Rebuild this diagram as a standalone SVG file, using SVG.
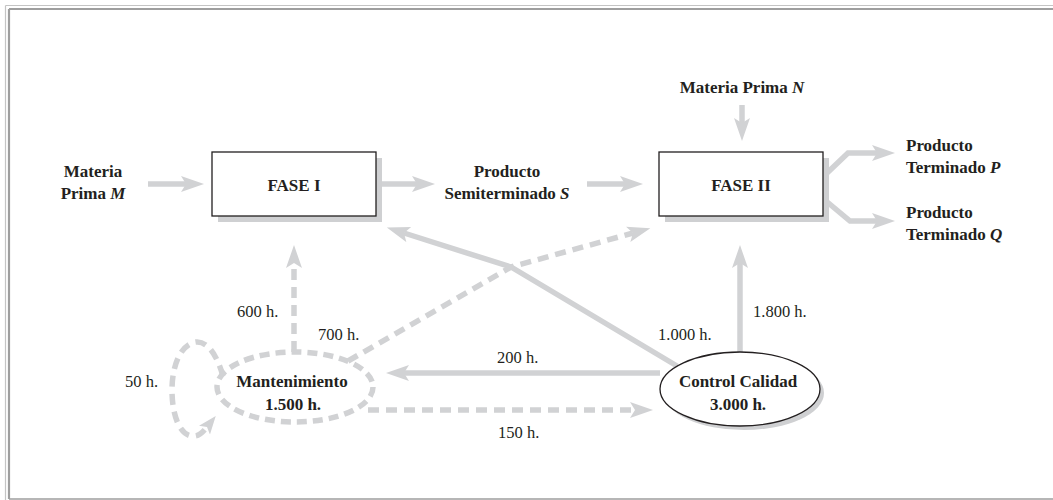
<svg xmlns="http://www.w3.org/2000/svg" width="1053" height="500" viewBox="0 0 1053 500">
<defs>
<style>
.t{font-family:"Liberation Serif","Times New Roman",serif;font-size:16.5px;fill:#231f20}
.b{font-weight:bold;font-size:17px}
.m{text-anchor:middle}
.c{fill:none;stroke:#d1d2d4;stroke-width:5.5}
.d{stroke-dasharray:11 7}
.box{fill:#fff;stroke:#231f20;stroke-width:1.3}
.sh{fill:#cfd0d2}
</style>
<marker id="ah" markerUnits="userSpaceOnUse" markerWidth="26" markerHeight="18" refX="5" refY="8" orient="auto" viewBox="0 0 26 18">
<path d="M0,0 L23,8 L0,16 L5,8 Z" fill="#d1d2d4"/>
</marker>
<marker id="ahs" markerUnits="userSpaceOnUse" markerWidth="20" markerHeight="16" refX="4" refY="7" orient="auto" viewBox="0 0 20 16">
<path d="M0,0 L18,7 L0,14 L4,7 Z" fill="#d1d2d4"/>
</marker>
</defs>
<g id="frame" fill="none">
<line x1="5.5" y1="5.5" x2="1053" y2="5.5" stroke="#c4c4c4" stroke-width="1.2"/>
<line x1="5.5" y1="5.5" x2="5.5" y2="500" stroke="#c4c4c4" stroke-width="1.2"/>
<line x1="9" y1="9" x2="1053" y2="9" stroke="#9e9e9e" stroke-width="2.2"/>
<line x1="9" y1="9" x2="9" y2="499" stroke="#9e9e9e" stroke-width="2.2"/>
<line x1="9" y1="499" x2="1053" y2="499" stroke="#9e9e9e" stroke-width="1.6"/>
</g>
<g id="connectors">
<line class="c" x1="148" y1="184" x2="186" y2="184" marker-end="url(#ah)"/>
<line class="c" x1="382" y1="184" x2="417" y2="184" marker-end="url(#ah)"/>
<line class="c" x1="587" y1="184" x2="625" y2="184" marker-end="url(#ah)"/>
<line class="c" x1="742" y1="105" x2="742" y2="123" marker-end="url(#ah)"/>
<polyline class="c" points="826,174 848,153 877,153" marker-end="url(#ah)"/>
<polyline class="c" points="826,201 850,221 877,221" marker-end="url(#ah)"/>
<polyline class="c" points="677,366 511,267 404,233" marker-end="url(#ah)"/>
<polyline class="c d" points="348,361 511,267 633,233" marker-end="url(#ah)"/>
<line class="c d" x1="294" y1="352" x2="294" y2="263" marker-end="url(#ah)"/>
<line class="c" x1="740" y1="352" x2="740" y2="263" marker-end="url(#ah)"/>
<line class="c" x1="660" y1="373" x2="404" y2="373" marker-end="url(#ah)"/>
<line class="c d" x1="368" y1="410" x2="635" y2="410" marker-end="url(#ah)"/>
<path class="c d" d="M223,376 C216,352 206,341 196,342 C181,344 172,365 172,390 C172,416 180,435 192,436 C199,437 203,432 207,427" marker-end="url(#ahs)"/>
</g>
<g id="fase1">
<rect class="sh" x="218" y="158" width="164" height="64"/>
<rect class="box" x="212" y="152" width="164" height="64"/>
<text class="t b m" x="294" y="191">FASE I</text>
</g>
<g id="fase2">
<rect class="sh" x="665" y="158" width="164" height="64"/>
<rect class="box" x="659" y="152" width="164" height="64"/>
<text class="t b m" x="741" y="191">FASE II</text>
</g>
<g id="mantenimiento">
<ellipse class="c" cx="295" cy="387" rx="78" ry="35" stroke-dasharray="10 6"/>
<text class="t b m" x="292" y="387">Mantenimiento</text>
<text class="t b m" x="293" y="410">1.500 h.</text>
</g>
<g id="control">
<ellipse cx="744" cy="393" rx="80" ry="37" fill="#cfd0d2"/>
<ellipse class="box" cx="740" cy="389" rx="80" ry="37"/>
<text class="t b m" x="738" y="387">Control Calidad</text>
<text class="t b m" x="738" y="410">3.000 h.</text>
</g>
<g id="materiaM">
<text class="t b m" x="93" y="177">Materia</text>
<text class="t b m" x="93" y="199">Prima <tspan font-style="italic">M</tspan></text>
</g>
<g id="productoS">
<text class="t b m" x="507" y="177">Producto</text>
<text class="t b m" x="507" y="199">Semiterminado <tspan font-style="italic">S</tspan></text>
</g>
<g id="materiaN">
<text class="t b m" x="742" y="93">Materia Prima <tspan font-style="italic">N</tspan></text>
</g>
<g id="productoP">
<text class="t b" x="906" y="151">Producto</text>
<text class="t b" x="906" y="173">Terminado <tspan font-style="italic">P</tspan></text>
</g>
<g id="productoQ">
<text class="t b" x="906" y="218">Producto</text>
<text class="t b" x="906" y="240">Terminado <tspan font-style="italic">Q</tspan></text>
</g>
<g id="labels">
<text class="t" x="237" y="317">600 h.</text>
<text class="t" x="318" y="340">700 h.</text>
<text class="t" x="125" y="387">50 h.</text>
<text class="t" x="497" y="363">200 h.</text>
<text class="t" x="498" y="438">150 h.</text>
<text class="t" x="658" y="340">1.000 h.</text>
<text class="t" x="753" y="317">1.800 h.</text>
</g>
</svg>
